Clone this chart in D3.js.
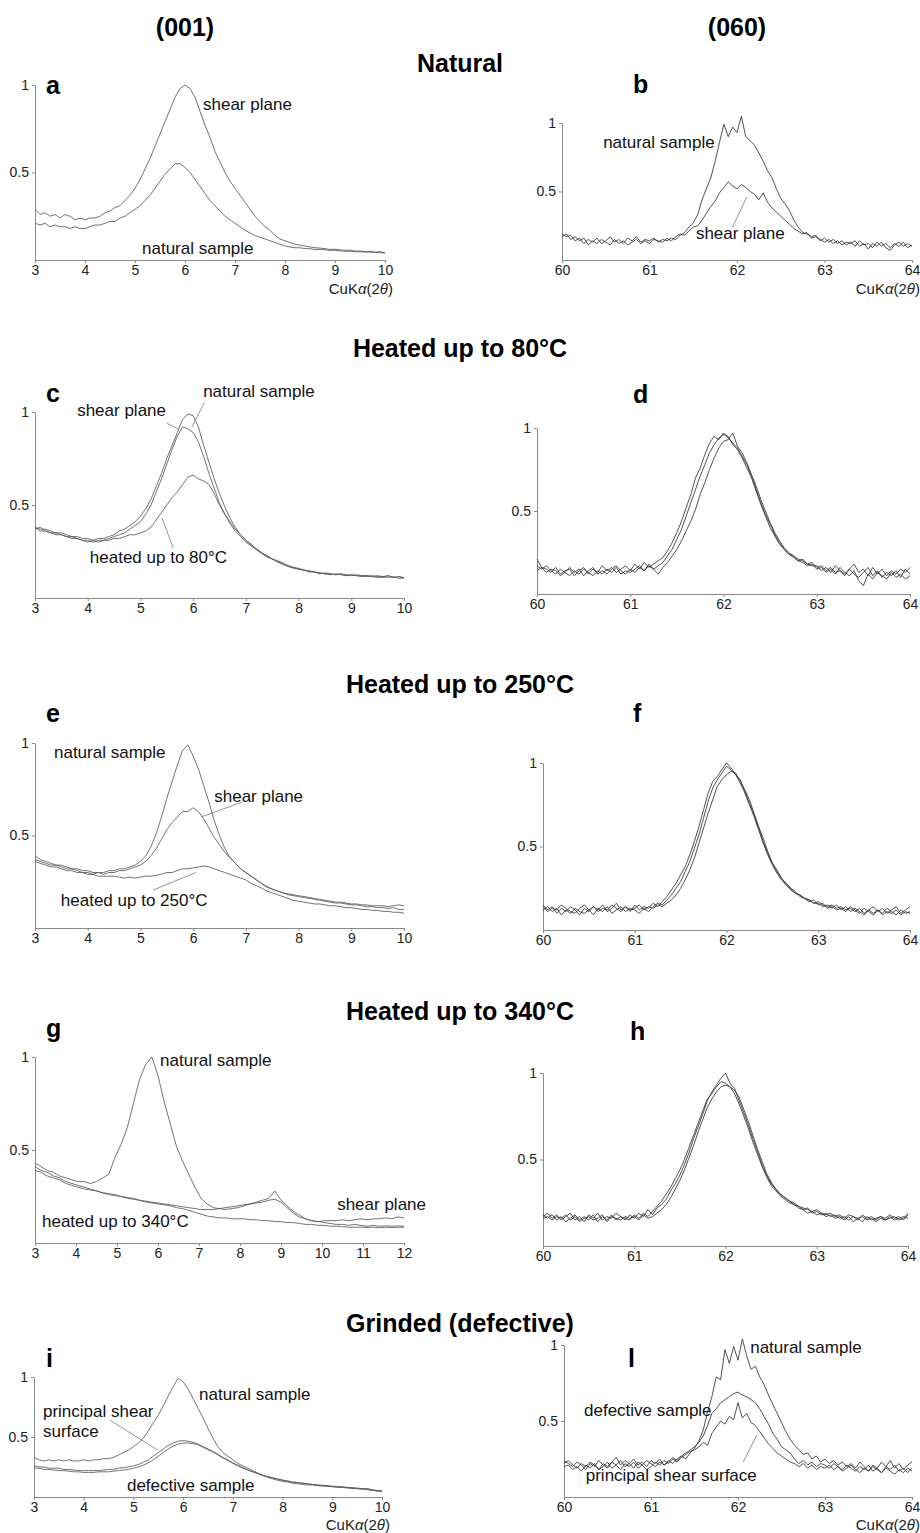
<!DOCTYPE html>
<html>
<head>
<meta charset="utf-8">
<script src="https://cdnjs.cloudflare.com/ajax/libs/d3/7.8.5/d3.min.js"></script>
<style>
body { margin: 0; background: #fff; }
svg { display: block; font-family: "Liberation Sans", Arial, sans-serif; }
</style>
</head>
<body>
<svg id="chart" width="920" height="1533"></svg>
<script>
// x grids (degrees 2theta)
var x001 = [3,3.1,3.2,3.3,3.4,3.5,3.6,3.7,3.8,3.9,
    4,4.1,4.2,4.3,4.4,4.5,4.6,4.7,4.8,4.9,
    5,5.1,5.2,5.3,5.4,5.5,5.6,5.7,5.8,5.9,
    6,6.1,6.2,6.3,6.4,6.5,6.6,6.7,6.8,6.9,
    7,7.1,7.2,7.3,7.4,7.5,7.6,7.7,7.8,7.9,
    8,8.1,8.2,8.3,8.4,8.5,8.6,8.7,8.8,8.9,
    9,9.1,9.2,9.3,9.4,9.5,9.6,9.7,9.8,9.9,
    10];
var x060 = [60,60.05,60.1,60.15,60.2,60.25,60.3,60.35,60.4,60.45,
    60.5,60.55,60.6,60.65,60.7,60.75,60.8,60.85,60.9,60.95,
    61,61.05,61.1,61.15,61.2,61.25,61.3,61.35,61.4,61.45,
    61.5,61.55,61.6,61.65,61.7,61.75,61.8,61.85,61.9,61.95,
    62,62.05,62.1,62.15,62.2,62.25,62.3,62.35,62.4,62.45,
    62.5,62.55,62.6,62.65,62.7,62.75,62.8,62.85,62.9,62.95,
    63,63.05,63.1,63.15,63.2,63.25,63.3,63.35,63.4,63.45,
    63.5,63.55,63.6,63.65,63.7,63.75,63.8,63.85,63.9,63.95,
    64];
var x340 = [3,3.15,3.3,3.45,3.6,3.75,3.9,4.05,4.2,4.35,
    4.5,4.65,4.8,4.95,5.1,5.25,5.4,5.55,5.7,5.85,
    6,6.15,6.3,6.45,6.6,6.75,6.9,7.05,7.2,7.35,
    7.5,7.65,7.8,7.95,8.1,8.25,8.4,8.55,8.7,8.85,
    9,9.15,9.3,9.45,9.6,9.75,9.9,10.05,10.2,10.35,
    10.5,10.65,10.8,10.95,11.1,11.25,11.4,11.55,11.7,11.85,
    12];

// a - natural (001)
var aShear = [0.29,0.26,0.27,0.25,0.26,0.24,0.26,0.25,0.23,0.24,
    0.23,0.24,0.24,0.25,0.27,0.28,0.30,0.31,0.34,0.37,
    0.41,0.46,0.52,0.58,0.65,0.72,0.79,0.86,0.93,0.98,
    1.0,0.98,0.93,0.85,0.77,0.70,0.62,0.56,0.50,0.45,
    0.41,0.37,0.33,0.29,0.25,0.22,0.19,0.17,0.14,0.12,
    0.11,0.10,0.09,0.085,0.08,0.075,0.07,0.068,0.065,0.06,
    0.062,0.058,0.055,0.057,0.05,0.052,0.048,0.05,0.045,0.048,
    0.04];
var aNatural = [0.21,0.20,0.21,0.19,0.20,0.19,0.19,0.18,0.19,0.18,
    0.18,0.19,0.20,0.20,0.21,0.22,0.22,0.24,0.25,0.27,
    0.29,0.31,0.34,0.37,0.41,0.45,0.49,0.52,0.55,0.55,
    0.53,0.50,0.46,0.42,0.38,0.34,0.31,0.28,0.25,0.23,
    0.21,0.19,0.17,0.155,0.14,0.13,0.12,0.11,0.10,0.09,
    0.08,0.075,0.07,0.07,0.065,0.065,0.06,0.06,0.058,0.055,
    0.055,0.052,0.05,0.05,0.048,0.047,0.045,0.045,0.043,0.042,
    0.04];

// b - natural (060)
var bNatural = [0.19,0.17,0.18,0.14,0.16,0.12,0.15,0.13,0.16,0.12,
    0.14,0.17,0.13,0.15,0.12,0.16,0.14,0.17,0.13,0.15,
    0.14,0.16,0.13,0.15,0.14,0.16,0.15,0.18,0.20,0.24,
    0.27,0.33,0.44,0.52,0.60,0.72,0.86,0.99,0.90,0.97,
    0.93,1.05,0.90,0.87,0.84,0.78,0.72,0.65,0.60,0.52,
    0.45,0.41,0.36,0.29,0.24,0.20,0.19,0.17,0.18,0.14,
    0.16,0.13,0.15,0.12,0.14,0.11,0.13,0.10,0.14,0.11,
    0.12,0.09,0.13,0.10,0.12,0.09,0.12,0.10,0.13,0.09,
    0.11];
var bShear = [0.17,0.19,0.15,0.17,0.14,0.16,0.11,0.14,0.12,0.15,
    0.13,0.11,0.15,0.12,0.14,0.11,0.13,0.15,0.12,0.14,
    0.12,0.15,0.14,0.13,0.16,0.14,0.17,0.19,0.18,0.21,
    0.24,0.25,0.29,0.34,0.39,0.43,0.49,0.53,0.57,0.54,
    0.52,0.55,0.53,0.50,0.48,0.44,0.49,0.42,0.38,0.35,
    0.32,0.29,0.26,0.23,0.21,0.19,0.20,0.16,0.17,0.15,
    0.13,0.15,0.12,0.14,0.11,0.13,0.12,0.14,0.10,0.12,
    0.08,0.12,0.10,0.13,0.09,0.07,0.11,0.13,0.10,0.12,
    0.10];

// c - heated up to 80 (001)
var cNatural = [0.38,0.37,0.37,0.36,0.35,0.35,0.34,0.33,0.33,0.32,
    0.32,0.31,0.32,0.32,0.33,0.34,0.36,0.37,0.39,0.41,
    0.44,0.48,0.53,0.60,0.67,0.75,0.82,0.89,0.96,0.99,
    0.98,0.92,0.82,0.73,0.64,0.56,0.49,0.43,0.38,0.34,
    0.31,0.29,0.26,0.24,0.23,0.21,0.20,0.19,0.17,0.165,
    0.16,0.15,0.145,0.14,0.135,0.13,0.13,0.125,0.13,0.125,
    0.12,0.125,0.12,0.12,0.115,0.12,0.115,0.12,0.11,0.115,
    0.11];
var cShear = [0.37,0.38,0.36,0.35,0.35,0.34,0.33,0.33,0.32,0.31,
    0.31,0.30,0.31,0.31,0.32,0.33,0.34,0.35,0.37,0.39,
    0.41,0.45,0.50,0.57,0.64,0.72,0.80,0.87,0.92,0.91,
    0.89,0.84,0.76,0.67,0.59,0.51,0.45,0.40,0.36,0.33,
    0.30,0.28,0.26,0.24,0.22,0.21,0.195,0.185,0.175,0.165,
    0.155,0.15,0.145,0.14,0.135,0.13,0.125,0.13,0.125,0.12,
    0.125,0.12,0.115,0.12,0.115,0.11,0.115,0.11,0.115,0.105,
    0.11];
var cHeated = [0.38,0.36,0.36,0.35,0.34,0.34,0.33,0.32,0.32,0.31,
    0.30,0.31,0.30,0.31,0.31,0.32,0.32,0.33,0.34,0.34,
    0.35,0.36,0.38,0.42,0.46,0.50,0.54,0.57,0.61,0.65,
    0.66,0.64,0.63,0.61,0.56,0.50,0.45,0.41,0.37,0.34,
    0.31,0.285,0.265,0.245,0.225,0.21,0.195,0.18,0.17,0.16,
    0.155,0.15,0.14,0.14,0.13,0.135,0.13,0.125,0.13,0.12,
    0.125,0.12,0.12,0.115,0.12,0.115,0.11,0.12,0.11,0.115,
    0.105];

// d - heated up to 80 (060)
var d1 = [0.21,0.16,0.15,0.13,0.16,0.12,0.14,0.15,0.11,0.14,
    0.16,0.12,0.15,0.13,0.17,0.14,0.16,0.13,0.15,0.17,
    0.14,0.18,0.15,0.19,0.16,0.18,0.20,0.22,0.26,0.31,
    0.37,0.44,0.52,0.60,0.70,0.76,0.84,0.91,0.95,0.93,
    0.97,0.94,0.91,0.88,0.83,0.78,0.71,0.63,0.55,0.48,
    0.42,0.36,0.31,0.27,0.24,0.22,0.20,0.21,0.18,0.19,
    0.16,0.17,0.14,0.16,0.13,0.14,0.11,0.15,0.12,0.10,
    0.13,0.16,0.11,0.14,0.10,0.13,0.11,0.14,0.10,0.15,
    0.12];
var d2 = [0.17,0.15,0.17,0.14,0.12,0.15,0.13,0.11,0.14,0.12,
    0.15,0.13,0.11,0.14,0.12,0.15,0.13,0.16,0.12,0.14,
    0.13,0.15,0.17,0.14,0.18,0.15,0.17,0.19,0.23,0.27,
    0.33,0.39,0.47,0.55,0.63,0.71,0.78,0.85,0.90,0.94,
    0.96,0.95,0.90,0.87,0.82,0.76,0.70,0.62,0.54,0.47,
    0.40,0.35,0.30,0.27,0.24,0.23,0.20,0.19,0.17,0.18,
    0.15,0.16,0.13,0.15,0.12,0.16,0.13,0.11,0.14,0.08,
    0.05,0.12,0.09,0.13,0.11,0.09,0.13,0.10,0.12,0.09,
    0.11];
var d3s = [0.14,0.16,0.13,0.15,0.14,0.11,0.13,0.16,0.13,0.15,
    0.11,0.14,0.16,0.12,0.14,0.12,0.15,0.17,0.14,0.12,
    0.15,0.13,0.16,0.14,0.17,0.15,0.12,0.16,0.19,0.23,
    0.27,0.32,0.38,0.44,0.51,0.60,0.67,0.75,0.82,0.88,
    0.92,0.93,0.97,0.89,0.85,0.79,0.72,0.65,0.57,0.50,
    0.43,0.37,0.32,0.28,0.25,0.23,0.21,0.20,0.18,0.17,
    0.17,0.14,0.16,0.13,0.17,0.14,0.12,0.15,0.18,0.13,
    0.15,0.11,0.16,0.12,0.15,0.11,0.14,0.12,0.15,0.13,
    0.16];

// e - heated up to 250 (001)
var eNatural = [0.39,0.37,0.36,0.35,0.34,0.34,0.33,0.32,0.32,0.31,
    0.31,0.30,0.30,0.30,0.31,0.31,0.32,0.32,0.33,0.34,
    0.36,0.39,0.44,0.51,0.60,0.70,0.79,0.88,0.96,0.99,
    0.93,0.86,0.77,0.68,0.58,0.50,0.43,0.38,0.35,0.32,
    0.30,0.28,0.26,0.24,0.22,0.21,0.20,0.19,0.185,0.18,
    0.175,0.17,0.165,0.16,0.155,0.15,0.145,0.14,0.14,0.135,
    0.13,0.13,0.125,0.125,0.12,0.12,0.12,0.115,0.12,0.125,
    0.12];
var eShear = [0.37,0.36,0.35,0.34,0.34,0.33,0.32,0.32,0.31,0.30,
    0.30,0.29,0.30,0.29,0.30,0.30,0.31,0.31,0.32,0.33,
    0.34,0.36,0.39,0.43,0.48,0.53,0.57,0.60,0.63,0.63,
    0.65,0.63,0.59,0.54,0.49,0.45,0.41,0.38,0.35,0.32,
    0.30,0.28,0.26,0.24,0.225,0.21,0.20,0.19,0.18,0.175,
    0.17,0.165,0.16,0.155,0.15,0.145,0.14,0.135,0.135,0.13,
    0.125,0.125,0.12,0.115,0.115,0.11,0.11,0.105,0.11,0.10,
    0.10];
var eHeated = [0.36,0.35,0.34,0.33,0.33,0.32,0.31,0.31,0.30,0.30,
    0.29,0.29,0.28,0.28,0.28,0.28,0.275,0.27,0.275,0.27,
    0.275,0.28,0.28,0.285,0.29,0.30,0.30,0.31,0.32,0.32,
    0.325,0.33,0.335,0.33,0.32,0.31,0.30,0.29,0.28,0.27,
    0.26,0.24,0.23,0.215,0.20,0.19,0.18,0.17,0.16,0.15,
    0.145,0.14,0.135,0.13,0.13,0.125,0.12,0.12,0.115,0.11,
    0.11,0.105,0.10,0.10,0.095,0.095,0.09,0.09,0.085,0.085,
    0.08];

// f - heated up to 250 (060)
var f1 = [0.15,0.12,0.14,0.10,0.13,0.11,0.14,0.12,0.09,0.13,
    0.11,0.14,0.12,0.15,0.11,0.13,0.16,0.12,0.14,0.11,
    0.15,0.12,0.14,0.13,0.16,0.14,0.17,0.20,0.24,0.28,
    0.33,0.38,0.45,0.53,0.62,0.72,0.82,0.89,0.92,0.96,
    1.0,0.97,0.93,0.88,0.82,0.75,0.68,0.60,0.52,0.45,
    0.39,0.34,0.30,0.27,0.24,0.22,0.21,0.19,0.18,0.16,
    0.17,0.15,0.14,0.15,0.13,0.14,0.12,0.13,0.11,0.13,
    0.10,0.12,0.14,0.11,0.13,0.10,0.12,0.14,0.10,0.12,
    0.14];
var f2 = [0.12,0.14,0.11,0.13,0.09,0.12,0.10,0.13,0.11,0.10,
    0.12,0.09,0.13,0.11,0.14,0.10,0.12,0.14,0.11,0.13,
    0.12,0.10,0.13,0.11,0.14,0.16,0.15,0.18,0.21,0.25,
    0.29,0.35,0.41,0.49,0.57,0.67,0.77,0.85,0.90,0.94,
    0.98,0.96,0.93,0.90,0.83,0.76,0.69,0.61,0.53,0.46,
    0.40,0.35,0.31,0.27,0.25,0.23,0.20,0.19,0.17,0.18,
    0.15,0.16,0.13,0.14,0.12,0.13,0.11,0.14,0.12,0.10,
    0.13,0.11,0.09,0.12,0.10,0.13,0.11,0.09,0.12,0.10,
    0.11];
var f3 = [0.14,0.11,0.13,0.12,0.15,0.13,0.11,0.10,0.13,0.15,
    0.12,0.14,0.11,0.13,0.12,0.15,0.13,0.11,0.14,0.12,
    0.13,0.15,0.12,0.14,0.13,0.15,0.14,0.16,0.18,0.21,
    0.25,0.30,0.36,0.43,0.52,0.61,0.70,0.78,0.86,0.90,
    0.93,0.95,0.94,0.89,0.84,0.78,0.70,0.62,0.55,0.47,
    0.40,0.36,0.31,0.28,0.25,0.22,0.21,0.19,0.18,0.16,
    0.16,0.14,0.15,0.13,0.15,0.12,0.14,0.11,0.13,0.11,
    0.09,0.12,0.10,0.12,0.09,0.11,0.10,0.12,0.09,0.11,
    0.10];

// g - heated up to 340 (001), range 3-12
var gNatural = [0.43,0.41,0.39,0.38,0.36,0.35,0.34,0.33,0.33,0.32,
    0.33,0.35,0.37,0.46,0.53,0.62,0.75,0.88,0.96,1.0,
    0.90,0.76,0.64,0.52,0.44,0.37,0.30,0.24,0.21,0.19,
    0.185,0.18,0.185,0.19,0.20,0.21,0.22,0.23,0.24,0.28,
    0.23,0.20,0.17,0.15,0.13,0.12,0.115,0.11,0.105,0.10,
    0.10,0.095,0.10,0.095,0.09,0.095,0.09,0.092,0.09,0.092,
    0.09];
var gShear = [0.41,0.39,0.38,0.36,0.35,0.33,0.32,0.31,0.30,0.29,
    0.28,0.27,0.265,0.26,0.25,0.245,0.24,0.23,0.225,0.22,
    0.215,0.21,0.205,0.20,0.195,0.19,0.185,0.18,0.18,0.18,
    0.185,0.19,0.195,0.20,0.205,0.21,0.215,0.22,0.23,0.235,
    0.22,0.19,0.16,0.14,0.13,0.12,0.115,0.12,0.12,0.12,
    0.125,0.12,0.125,0.13,0.125,0.13,0.13,0.135,0.13,0.14,
    0.135];
var gHeated = [0.39,0.38,0.36,0.35,0.34,0.32,0.31,0.30,0.29,0.285,
    0.28,0.27,0.26,0.255,0.25,0.24,0.235,0.23,0.22,0.215,
    0.21,0.205,0.20,0.19,0.185,0.175,0.165,0.155,0.145,0.14,
    0.135,0.135,0.13,0.13,0.13,0.125,0.125,0.12,0.12,0.115,
    0.115,0.11,0.11,0.105,0.10,0.10,0.095,0.095,0.09,0.09,
    0.088,0.085,0.085,0.085,0.083,0.085,0.082,0.085,0.083,0.085,
    0.084];

// h - heated up to 340 (060)
var h1 = [0.17,0.19,0.16,0.18,0.15,0.17,0.19,0.15,0.17,0.14,
    0.18,0.16,0.19,0.15,0.17,0.16,0.19,0.17,0.15,0.18,
    0.16,0.19,0.17,0.21,0.18,0.22,0.24,0.27,0.32,0.36,
    0.41,0.47,0.54,0.62,0.69,0.76,0.84,0.89,0.93,0.97,
    1.0,0.94,0.91,0.84,0.77,0.70,0.62,0.55,0.47,0.41,
    0.36,0.33,0.30,0.28,0.26,0.25,0.23,0.22,0.21,0.20,
    0.21,0.19,0.18,0.19,0.17,0.18,0.16,0.18,0.17,0.15,
    0.18,0.16,0.17,0.15,0.17,0.16,0.18,0.16,0.17,0.15,
    0.18];
var h2 = [0.18,0.16,0.18,0.15,0.17,0.14,0.16,0.18,0.15,0.17,
    0.15,0.18,0.14,0.17,0.15,0.18,0.15,0.17,0.16,0.15,
    0.18,0.16,0.19,0.17,0.20,0.23,0.26,0.30,0.34,0.39,
    0.44,0.50,0.57,0.64,0.71,0.78,0.85,0.88,0.92,0.95,
    0.94,0.92,0.88,0.82,0.75,0.68,0.60,0.53,0.46,0.40,
    0.35,0.32,0.29,0.27,0.25,0.24,0.22,0.21,0.19,0.20,
    0.18,0.19,0.17,0.18,0.16,0.17,0.15,0.17,0.14,0.16,
    0.17,0.15,0.16,0.14,0.16,0.15,0.17,0.15,0.16,0.17,
    0.16];
var h3 = [0.16,0.17,0.15,0.17,0.16,0.18,0.15,0.17,0.14,0.16,
    0.17,0.15,0.16,0.18,0.14,0.17,0.16,0.15,0.17,0.16,
    0.17,0.15,0.18,0.16,0.17,0.19,0.21,0.24,0.28,0.33,
    0.38,0.44,0.51,0.58,0.66,0.73,0.80,0.85,0.89,0.92,
    0.93,0.92,0.90,0.86,0.79,0.72,0.64,0.56,0.49,0.42,
    0.37,0.33,0.30,0.28,0.26,0.24,0.23,0.21,0.22,0.19,
    0.20,0.18,0.19,0.17,0.18,0.16,0.17,0.15,0.17,0.16,
    0.14,0.17,0.15,0.16,0.17,0.15,0.16,0.17,0.15,0.16,
    0.19];

// i - grinded (001)
var iNatural = [0.33,0.31,0.30,0.31,0.30,0.31,0.30,0.31,0.30,0.30,
    0.31,0.30,0.31,0.31,0.32,0.32,0.33,0.35,0.37,0.39,
    0.42,0.45,0.49,0.55,0.62,0.68,0.76,0.84,0.92,0.99,
    0.96,0.90,0.82,0.74,0.66,0.57,0.49,0.42,0.37,0.34,
    0.31,0.28,0.26,0.24,0.22,0.20,0.18,0.165,0.15,0.14,
    0.13,0.125,0.115,0.11,0.105,0.10,0.10,0.095,0.09,0.09,
    0.085,0.08,0.08,0.075,0.07,0.07,0.065,0.07,0.06,0.055,
    0.05];
var iShear = [0.26,0.25,0.25,0.24,0.24,0.24,0.23,0.23,0.225,0.22,
    0.22,0.22,0.22,0.22,0.225,0.23,0.23,0.24,0.245,0.25,
    0.26,0.27,0.29,0.31,0.34,0.37,0.40,0.43,0.45,0.465,
    0.47,0.465,0.455,0.44,0.42,0.40,0.38,0.355,0.33,0.31,
    0.285,0.265,0.245,0.225,0.21,0.195,0.18,0.17,0.16,0.15,
    0.14,0.135,0.125,0.12,0.115,0.11,0.105,0.10,0.098,0.095,
    0.09,0.088,0.085,0.08,0.078,0.075,0.07,0.068,0.06,0.05,
    0.048];
var iDefective = [0.24,0.24,0.23,0.23,0.225,0.22,0.22,0.215,0.21,0.21,
    0.205,0.205,0.205,0.21,0.21,0.21,0.215,0.22,0.225,0.23,
    0.24,0.25,0.265,0.285,0.31,0.34,0.37,0.40,0.425,0.44,
    0.45,0.45,0.445,0.435,0.415,0.395,0.375,0.35,0.325,0.305,
    0.28,0.26,0.24,0.225,0.21,0.195,0.18,0.17,0.16,0.15,
    0.14,0.13,0.125,0.12,0.115,0.11,0.105,0.10,0.095,0.09,
    0.088,0.085,0.082,0.08,0.075,0.07,0.068,0.06,0.055,0.05,
    0.05];

// l - grinded (060)
var lNatural = [0.24,0.22,0.20,0.23,0.21,0.18,0.22,0.20,0.24,0.21,
    0.19,0.23,0.26,0.21,0.24,0.22,0.25,0.21,0.23,0.20,
    0.24,0.22,0.25,0.21,0.23,0.26,0.24,0.27,0.25,0.29,
    0.32,0.37,0.44,0.56,0.66,0.79,0.77,0.97,0.88,0.99,
    0.90,1.04,0.93,0.84,0.86,0.79,0.74,0.67,0.61,0.55,
    0.49,0.43,0.38,0.34,0.31,0.28,0.29,0.25,0.27,0.23,
    0.25,0.22,0.24,0.21,0.23,0.20,0.22,0.19,0.23,0.20,
    0.17,0.21,0.19,0.23,0.20,0.24,0.19,0.22,0.18,0.21,
    0.23];
var lDefective = [0.22,0.24,0.21,0.19,0.22,0.20,0.23,0.21,0.18,0.22,
    0.20,0.23,0.21,0.24,0.20,0.22,0.19,0.23,0.21,0.24,
    0.22,0.20,0.23,0.21,0.24,0.22,0.25,0.27,0.29,0.31,
    0.33,0.36,0.40,0.47,0.55,0.58,0.62,0.64,0.66,0.68,
    0.69,0.67,0.66,0.64,0.62,0.58,0.53,0.48,0.42,0.38,
    0.33,0.31,0.29,0.25,0.22,0.24,0.21,0.23,0.20,0.22,
    0.21,0.19,0.22,0.20,0.18,0.21,0.19,0.17,0.20,0.18,
    0.21,0.17,0.19,0.16,0.20,0.18,0.21,0.17,0.19,0.16,
    0.19];
var lShear = [0.20,0.21,0.18,0.20,0.17,0.21,0.19,0.22,0.18,0.20,
    0.23,0.19,0.21,0.18,0.22,0.20,0.23,0.19,0.21,0.18,
    0.20,0.23,0.21,0.24,0.22,0.25,0.23,0.26,0.28,0.30,
    0.31,0.33,0.36,0.34,0.42,0.46,0.50,0.48,0.53,0.51,
    0.62,0.52,0.55,0.49,0.47,0.43,0.39,0.35,0.32,0.29,
    0.27,0.25,0.23,0.22,0.20,0.22,0.19,0.21,0.18,0.20,
    0.19,0.21,0.18,0.20,0.17,0.19,0.21,0.18,0.16,0.19,
    0.17,0.20,0.18,0.16,0.19,0.17,0.15,0.18,0.16,0.19,
    0.17];

// tick values
var ticks001 = [3,4,5,6,7,8,9,10];
var ticks340 = [3,4,5,6,7,8,9,10,11,12];
var ticks060 = [60,61,62,63,64];
var yTicks = [0.5, 1];

// headings
var columnTitles = [{text: "(001)", x: 185}, {text: "(060)", x: 737}];
var rowTitles = [
    {text: "Natural", y: 72},
    {text: "Heated up to 80°C", y: 357},
    {text: "Heated up to 250°C", y: 693},
    {text: "Heated up to 340°C", y: 1020},
    {text: "Grinded (defective)", y: 1332}
];

// curve labels in data units (x, y = text baseline start)
var aLabels = [{t: "shear plane", x: 6.36, y: 0.857}, {t: "natural sample", x: 5.14, y: 0.034}];
var bLabels = [{t: "natural sample", x: 60.47, y: 0.818}, {t: "shear plane", x: 61.53, y: 0.153}];
var cLabels = [{t: "natural sample", x: 6.19, y: 1.08}, {t: "shear plane", x: 3.8, y: 0.98},
    {t: "heated up to 80°C", x: 4.04, y: 0.19}];
var eLabels = [{t: "natural sample", x: 3.36, y: 0.92}, {t: "shear plane", x: 6.4, y: 0.68},
    {t: "heated up to 250°C", x: 3.49, y: 0.12}];
var gLabels = [{t: "natural sample", x: 6.05, y: 0.95}, {t: "shear plane", x: 10.37, y: 0.18},
    {t: "heated up to 340°C", x: 3.17, y: 0.086}];
var iLabels = [{t: "natural sample", x: 6.32, y: 0.81}, {t: "principal shear", x: 3.18, y: 0.67},
    {t: "surface", x: 3.18, y: 0.5}, {t: "defective sample", x: 4.87, y: 0.05}];
var lLabels = [{t: "natural sample", x: 62.14, y: 0.95}, {t: "defective sample", x: 60.23, y: 0.53},
    {t: "principal shear surface", x: 60.25, y: 0.105}];

// leader lines in data units
var bLeaders = [[[61.95, 0.24], [62.11, 0.46]]];
var cLeaders = [[[5.5, 0.94], [5.71, 0.91]], [[6.21, 1.05], [5.98, 0.92]], [[5.62, 0.27], [5.41, 0.43]]];
var eLeaders = [[[6.93, 0.68], [6.15, 0.6]], [[5.24, 0.205], [6.05, 0.3]]];
var iLeaders = [[[4.53, 0.64], [5.49, 0.39]]];
var lLeaders = [[[62.06, 0.23], [62.22, 0.41]]];

var panels = [
    {letter: "a", lx: 46, ly: 94, xs: x001, domain: [3, 10], ticks: ticks001, box: [35, 385, 85, 260],
        series: [aShear, aNatural], labels: aLabels, leaders: [], unit: true, color: "#5a5a5a"},
    {letter: "b", lx: 633, ly: 93, xs: x060, domain: [60, 64], ticks: ticks060, box: [562, 912, 123, 260],
        series: [bNatural, bShear], labels: bLabels, leaders: bLeaders, unit: true, color: "#333"},
    {letter: "c", lx: 46, ly: 402, xs: x001, domain: [3, 10], ticks: ticks001, box: [35, 404, 412, 598],
        series: [cNatural, cShear, cHeated], labels: cLabels, leaders: cLeaders, unit: false, color: "#5a5a5a"},
    {letter: "d", lx: 633, ly: 403, xs: x060, domain: [60, 64], ticks: ticks060, box: [537, 910, 428, 594],
        series: [d1, d2, d3s], labels: [], leaders: [], unit: false, color: "#333"},
    {letter: "e", lx: 46, ly: 722, xs: x001, domain: [3, 10], ticks: ticks001, box: [35, 404, 743, 928],
        series: [eNatural, eShear, eHeated], labels: eLabels, leaders: eLeaders, unit: false, color: "#5a5a5a"},
    {letter: "f", lx: 633, ly: 722, xs: x060, domain: [60, 64], ticks: ticks060, box: [543, 910, 763, 930],
        series: [f1, f2, f3], labels: [], leaders: [], unit: false, color: "#333"},
    {letter: "g", lx: 46, ly: 1037, xs: x340, domain: [3, 12], ticks: ticks340, box: [35, 404, 1057, 1243],
        series: [gNatural, gShear, gHeated], labels: gLabels, leaders: [], unit: false, color: "#5a5a5a"},
    {letter: "h", lx: 630, ly: 1040, xs: x060, domain: [60, 64], ticks: ticks060, box: [543, 908, 1073, 1246],
        series: [h1, h2, h3], labels: [], leaders: [], unit: false, color: "#333"},
    {letter: "i", lx: 46, ly: 1367, xs: x001, domain: [3, 10], ticks: ticks001, box: [34, 382, 1377, 1497],
        series: [iNatural, iShear, iDefective], labels: iLabels, leaders: iLeaders, unit: true, color: "#5a5a5a"},
    {letter: "l", lx: 628, ly: 1367, xs: x060, domain: [60, 64], ticks: ticks060, box: [564, 912, 1345, 1497],
        series: [lNatural, lDefective, lShear], labels: lLabels, leaders: lLeaders, unit: true, color: "#333"}
];

var svg = d3.select("#chart");
svg.append("rect").attr("width", 920).attr("height", 1533).attr("fill", "#fff");

// column and row titles
svg.selectAll(".coltitle").data(columnTitles).enter().append("text")
    .attr("x", d => d.x).attr("y", 36)
    .attr("text-anchor", "middle")
    .style("font-size", "25px").style("font-weight", "bold")
    .text(d => d.text);

svg.selectAll(".rowtitle").data(rowTitles).enter().append("text")
    .attr("x", 460).attr("y", d => d.y)
    .attr("text-anchor", "middle")
    .style("font-size", "25px").style("font-weight", "bold")
    .text(d => d.text);

panels.forEach(function(p)
{
    var x = d3.scaleLinear().domain(p.domain).range([p.box[0], p.box[1]]);
    var y = d3.scaleLinear().domain([0, 1]).range([p.box[3], p.box[2]]);
    var g = svg.append("g");

    // axes
    var xAxis = g.append("g")
        .attr("transform", "translate(0," + p.box[3] + ")")
        .call(d3.axisBottom(x).tickValues(p.ticks).tickFormat(d3.format("d")).tickSize(3).tickSizeOuter(0).tickPadding(2));
    var yAxis = g.append("g")
        .attr("transform", "translate(" + p.box[0] + ",0)")
        .call(d3.axisLeft(y).tickValues(yTicks).tickFormat(d3.format("~g")).tickSize(3).tickSizeOuter(0).tickPadding(3));
    [xAxis, yAxis].forEach(function(a)
    {
        a.style("color", "#8a8a8a");
        a.selectAll("text").attr("fill", "#222").style("font-size", "14px")
            .style("font-family", "'Liberation Sans', Arial, sans-serif");
    });

    // curves
    var line = d3.line()
        .x(d => x(d[0]))
        .y(d => y(d[1]));
    p.series.forEach(function(s)
    {
        var pts = s.map((v, i) => [p.xs[i], v]).filter(d => d[0] != null);
        g.append("path")
            .attr("d", line(pts))
            .attr("fill", "none")
            .attr("stroke", p.color)
            .attr("stroke-width", 0.85)
            .attr("stroke-linejoin", "round");
    });

    // leaders
    p.leaders.forEach(function(l)
    {
        g.append("line")
            .attr("x1", x(l[0][0])).attr("y1", y(l[0][1]))
            .attr("x2", x(l[1][0])).attr("y2", y(l[1][1]))
            .attr("stroke", "#666").attr("stroke-width", 0.7);
    });

    // curve labels
    g.selectAll(".lbl").data(p.labels).enter().append("text")
        .attr("x", d => x(d.x)).attr("y", d => y(d.y))
        .style("font-size", "17px").attr("fill", "#111")
        .text(d => d.t);

    // panel letter
    g.append("text")
        .attr("x", p.lx).attr("y", p.ly)
        .style("font-size", "25px").style("font-weight", "bold")
        .text(p.letter);

    // x axis unit label (kept inside the page at the bottom row)
    if (p.unit)
    {
        var uy = Math.min(p.box[3] + 34, 1529.5);
        var u = g.append("text")
            .attr("x", p.box[1] + 8).attr("y", uy)
            .attr("text-anchor", "end")
            .style("font-size", "15px").attr("fill", "#222");
        u.append("tspan").text("CuK");
        u.append("tspan").style("font-style", "italic").text("α");
        u.append("tspan").text("(2");
        u.append("tspan").style("font-style", "italic").text("θ");
        u.append("tspan").text(")");
    }
});
</script>
</body>
</html>
